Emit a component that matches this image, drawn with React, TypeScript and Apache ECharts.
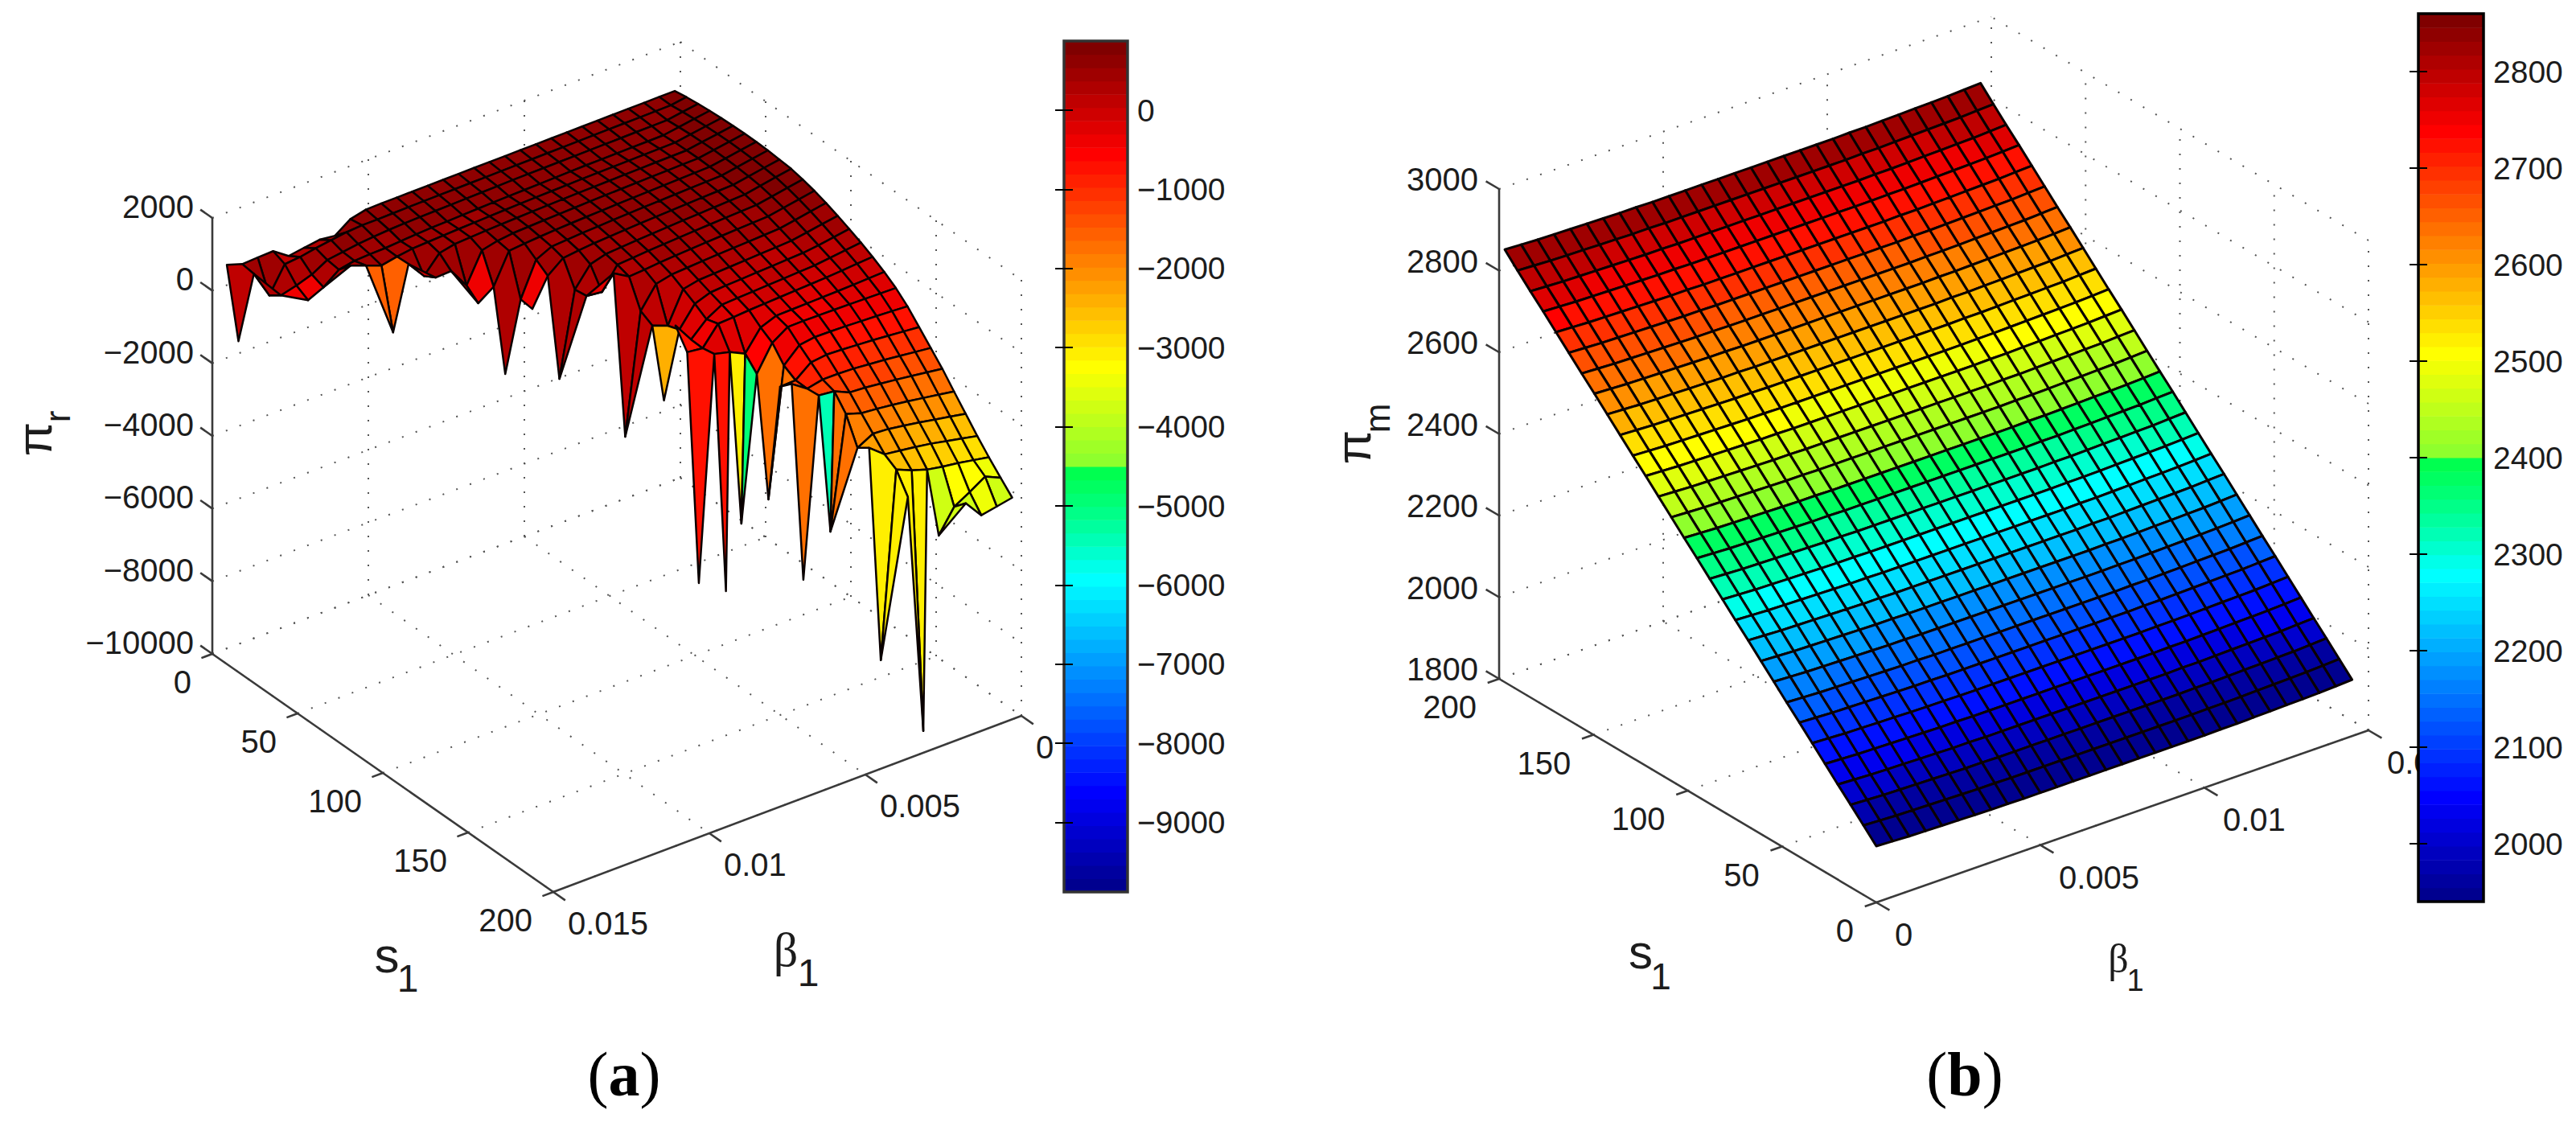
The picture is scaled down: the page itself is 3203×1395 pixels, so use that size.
import React, { useEffect, useRef } from "react";
import * as echarts from "echarts";

// ---------- panel (a) values ----------
const S_GRID_A = [0,6.82,13.65,20.47,27.3,34.12,40.94,47.77,54.59,61.42,68.24,75.06,81.89,88.71,95.54,102.36,109.18,116.01,122.83,129.66,136.48,143.3,150.13,156.95,163.78,170.6,177.42,184.25,191.07,197.9];
const BETA_GRID_A = [0.00018,0.000675,0.00117,0.001665,0.00216,0.002655,0.00315,0.003645,0.00414,0.004635,0.00513,0.005625,0.00612,0.006615,0.00711,0.007605,0.0081,0.008595,0.00909,0.009585,0.01008,0.010575,0.01107,0.011565,0.01206,0.012555,0.01305,0.013545,0.01404,0.014535];
// one row per s value; a row stops where the surface has no more points
const PI_R = [
[706,703,700,697,694,691,688,685,682,679,676,673,670,667,664,661,658,655,652,650,640,540,240,290,230,164,456,440,420,560],
[760,695,690,685,680,675,670,665,660,655,650,645,640,635,630,625,620,615,610,600,590,590,560,500,440,360,320,-376,376,-1320],
[800,735,670,665,660,655,650,645,640,635,630,625,620,610,600,590,580,570,560,550,530,500,460,400,340,100,-44,-155],
[830,765,700,635,630,625,620,615,610,600,590,580,570,560,550,535,520,505,490,470,440,410,400,380,296,-29,-224],
[852,788,723,658,652,646,640,634,628,620,610,600,590,578,565,550,535,520,500,480,460,400,314,474,633],
[866,800,735,668,662,655,648,640,632,624,615,605,595,582,568,552,535,515,490,400,-69,420,-1300],
[874,808,740,672,665,656,648,638,628,618,606,594,580,565,548,530,480,380,-430,130,110],
[870,802,732,662,652,642,630,618,606,592,578,562,545,525,500,470,430,-400,-693],
[858,788,716,644,632,620,606,592,578,562,545,525,505,480,450,250,-682,-2579],
[830,760,686,612,598,582,566,550,532,514,494,470,445,410,360,27,-722],
[800,725,648,570,552,534,515,495,475,452,428,402,370,250,-288,-2584],
[730,656,580,504,488,470,452,432,410,388,362,332,300,-288,-237],
[640,565,490,414,396,378,360,340,318,294,266,230,200,449],
[530,455,380,304,286,268,250,230,208,184,156,60,-527,-3825],
[400,330,260,190,170,150,130,110,90,70,-20,-868,-700],
[260,195,130,80,60,40,20,0,-20,-50,-200,-750,-2540],
[110,60,10,-40,-60,-80,-100,-120,-140,-160,-400,-800,-257],
[-60,-90,-120,-150,-170,-190,-210,-230,-250,-280,-300,-815,-764],
[-250,-270,-285,-300,-310,-320,-330,-340,-500,-1060,-860,-750,-6896],
[-470,-460,-450,-440,-432,-425,-420,-425,-700,-1394,-5355,-7053],
[-750,-725,-700,-680,-660,-645,-640,-700,-1100,-4625],
[-1100,-1060,-1020,-980,-950,-920,-900,-950,-1284,-1300],
[-1450,-1400,-1350,-1300,-1260,-1220,-1200,-1200,-1290,-1000],
[-1800,-1740,-1680,-1620,-1570,-1520,-1490,-1300,-1253,-6168],
[-2200,-2130,-2060,-1990,-1930,-1880,-1840,-1700,-4776],
[-2590,-2510,-2430,-2350,-2280,-2210,-2180,-2409],
[-2980,-2890,-2800,-2710,-2640,-2580,-2524,-2185],
[-3340,-3260,-3180,-3120,-3040,-2900,-2718,-7806],
[-3680,-3490,-3755,-4000,-4631,-9852,-3254],
[-4005,-4089,-4170,-3680],
];
// colour value seen on the facets round each spike: [s index, beta index, value]
const SPIKE_COLOUR = [[1,29,150],[3,26,-470],[5,22,-1500],[7,18,-470],[8,17,350],[9,16,-470],[10,15,300],[13,13,150],[15,12,-2450],[18,12,-800],[19,11,-800],[20,9,-1700],[23,9,-1750],[24,8,-1700],[27,7,-3100],[28,4,-3800],[28,5,-3100]];
const FACET_COLOUR = [[15,11,-700],[1,27,300]];
// facets drawn as two triangles with different colours: [s index, beta index, value, value]
const FACET_SPLIT = [[18,9,-3100,-5000],[23,7,-5500,-1700]];
// a facet that does not reach one of its spike corners: [facet s, facet beta, corner s, corner beta]
const FACET_SKIP = [[18,10,19,10],[18,11,19,11],[19,9,19,10],[23,8,24,8],[27,4,28,4],[7,17,7,18],[8,16,8,17],[9,15,9,16],[15,11,15,12]];
const Z_TICKS_A = [2000,0,-2000,-4000,-6000,-8000,-10000];
const S_TICKS_A = [0,50,100,150,200];
const BETA_TICKS_A = [0.015,0.01,0.005,0];
const BAR_TICKS_A = [0,-1000,-2000,-3000,-4000,-5000,-6000,-7000,-8000,-9000];

// ---------- panel (b) values ----------
const S_GRID_B = [0,6.79,13.59,20.38,27.17,33.97,40.76,47.55,54.34,61.14,67.93,74.72,81.52,88.31,95.1,101.9,108.69,115.48,122.27,129.07,135.86,142.65,149.45,156.24,163.03,169.83,176.62,183.41,190.2,197];
const BETA_GRID_B = [0,0.0005,0.001,0.0015,0.002,0.0025,0.003,0.0035,0.004,0.0045,0.005,0.0055,0.006,0.0065,0.007,0.0075,0.008,0.0085,0.009,0.0095,0.01,0.0105,0.011,0.0115,0.012,0.0125,0.013,0.0135,0.014,0.0145];
const PI_M = [
[1938,1936,1934,1933,1932,1931,1930,1929,1929,1928,1928,1928,1928,1928,1928,1928,1928,1928,1928,1928,1928,1929,1929,1930,1931,1932,1933,1934,1936,1938],
[1970,1968,1966,1965,1964,1963,1962,1961,1961,1960,1960,1960,1960,1960,1960,1960,1960,1960,1960,1960,1960,1961,1961,1962,1963,1964,1965,1966,1968,1970],
[2002,2000,1998,1997,1996,1995,1994,1993,1993,1992,1992,1992,1992,1992,1992,1992,1992,1992,1992,1992,1992,1993,1993,1994,1995,1996,1997,1998,2000,2002],
[2033,2031,2029,2028,2027,2026,2025,2024,2024,2023,2023,2023,2023,2023,2023,2023,2023,2023,2023,2023,2023,2024,2024,2025,2026,2027,2028,2029,2031,2033],
[2065,2063,2061,2060,2059,2058,2057,2056,2056,2055,2055,2055,2055,2055,2055,2055,2055,2055,2055,2055,2055,2056,2056,2057,2058,2059,2060,2061,2063,2065],
[2097,2095,2093,2092,2091,2090,2089,2088,2088,2087,2087,2087,2087,2087,2087,2087,2087,2087,2087,2087,2087,2088,2088,2089,2090,2091,2092,2093,2095,2097],
[2129,2127,2125,2124,2123,2122,2121,2120,2120,2119,2119,2119,2119,2119,2119,2119,2119,2119,2119,2119,2119,2120,2120,2121,2122,2123,2124,2125,2127,2129],
[2160,2158,2156,2155,2154,2153,2152,2151,2151,2150,2150,2150,2150,2150,2150,2150,2150,2150,2150,2150,2150,2151,2151,2152,2153,2154,2155,2156,2158,2160],
[2192,2190,2188,2187,2186,2185,2184,2183,2183,2182,2182,2182,2182,2182,2182,2182,2182,2182,2182,2182,2182,2183,2183,2184,2185,2186,2187,2188,2190,2192],
[2224,2222,2220,2219,2218,2217,2216,2215,2215,2214,2214,2214,2214,2214,2214,2214,2214,2214,2214,2214,2214,2215,2215,2216,2217,2218,2219,2220,2222,2224],
[2256,2254,2252,2251,2250,2249,2248,2247,2247,2246,2246,2246,2246,2246,2246,2246,2246,2246,2246,2246,2246,2247,2247,2248,2249,2250,2251,2252,2254,2256],
[2287,2285,2283,2282,2281,2280,2279,2278,2278,2277,2277,2277,2277,2277,2277,2277,2277,2277,2277,2277,2277,2278,2278,2279,2280,2281,2282,2283,2285,2287],
[2319,2317,2315,2314,2313,2312,2311,2310,2310,2309,2309,2309,2309,2309,2309,2309,2309,2309,2309,2309,2309,2310,2310,2311,2312,2313,2314,2315,2317,2319],
[2351,2349,2347,2346,2345,2344,2343,2342,2342,2341,2341,2341,2341,2341,2341,2341,2341,2341,2341,2341,2341,2342,2342,2343,2344,2345,2346,2347,2349,2351],
[2383,2381,2379,2378,2377,2376,2375,2374,2374,2373,2373,2373,2373,2373,2373,2373,2373,2373,2373,2373,2373,2374,2374,2375,2376,2377,2378,2379,2381,2383],
[2414,2412,2410,2409,2408,2407,2406,2405,2405,2404,2404,2404,2404,2404,2404,2404,2404,2404,2404,2404,2404,2405,2405,2406,2407,2408,2409,2410,2412,2414],
[2446,2444,2442,2441,2440,2439,2438,2437,2437,2436,2436,2436,2436,2436,2436,2436,2436,2436,2436,2436,2436,2437,2437,2438,2439,2440,2441,2442,2444,2446],
[2478,2476,2474,2473,2472,2471,2470,2469,2469,2468,2468,2468,2468,2468,2468,2468,2468,2468,2468,2468,2468,2469,2469,2470,2471,2472,2473,2474,2476,2478],
[2510,2508,2506,2505,2504,2503,2502,2501,2501,2500,2500,2500,2500,2500,2500,2500,2500,2500,2500,2500,2500,2501,2501,2502,2503,2504,2505,2506,2508,2510],
[2541,2539,2537,2536,2535,2534,2533,2532,2532,2531,2531,2531,2531,2531,2531,2531,2531,2531,2531,2531,2531,2532,2532,2533,2534,2535,2536,2537,2539,2541],
[2573,2571,2569,2568,2567,2566,2565,2564,2564,2563,2563,2563,2563,2563,2563,2563,2563,2563,2563,2563,2563,2564,2564,2565,2566,2567,2568,2569,2571,2573],
[2605,2603,2601,2600,2599,2598,2597,2596,2596,2595,2595,2595,2595,2595,2595,2595,2595,2595,2595,2595,2595,2596,2596,2597,2598,2599,2600,2601,2603,2605],
[2637,2635,2633,2632,2631,2630,2629,2628,2628,2627,2627,2627,2627,2627,2627,2627,2627,2627,2627,2627,2627,2628,2628,2629,2630,2631,2632,2633,2635,2637],
[2668,2666,2664,2663,2662,2661,2660,2659,2659,2658,2658,2658,2658,2658,2658,2658,2658,2658,2658,2658,2658,2659,2659,2660,2661,2662,2663,2664,2666,2668],
[2700,2698,2696,2695,2694,2693,2692,2691,2691,2690,2690,2690,2690,2690,2690,2690,2690,2690,2690,2690,2690,2691,2691,2692,2693,2694,2695,2696,2698,2700],
[2732,2730,2728,2727,2726,2725,2724,2723,2723,2722,2722,2722,2722,2722,2722,2722,2722,2722,2722,2722,2722,2723,2723,2724,2725,2726,2727,2728,2730,2732],
[2764,2762,2760,2759,2758,2757,2756,2755,2755,2754,2754,2754,2754,2754,2754,2754,2754,2754,2754,2754,2754,2755,2755,2756,2757,2758,2759,2760,2762,2764],
[2795,2793,2791,2790,2789,2788,2787,2786,2786,2785,2785,2785,2785,2785,2785,2785,2785,2785,2785,2785,2785,2786,2786,2787,2788,2789,2790,2791,2793,2795],
[2827,2825,2823,2822,2821,2820,2819,2818,2818,2817,2817,2817,2817,2817,2817,2817,2817,2817,2817,2817,2817,2818,2818,2819,2820,2821,2822,2823,2825,2827],
[2860,2858,2856,2855,2854,2853,2852,2851,2851,2850,2850,2850,2850,2850,2850,2850,2850,2850,2850,2850,2850,2851,2851,2852,2853,2854,2855,2856,2858,2860],
];
const Z_TICKS_B = [3000,2800,2600,2400,2200,2000,1800];
const S_TICKS_B = [200,150,100,50,0];
const BETA_TICKS_B = [0,0.005,0.01,0.015];
const BAR_TICKS_B = [2800,2700,2600,2500,2400,2300,2200,2100,2000];

// ---------- ranges ----------
const RANGE_A = { cMin: -9878, cMax: 874 };
const RANGE_B = { cMin: 1940, cMax: 2860 };

const FONT = '"Liberation Sans", Arial, sans-serif';
const SERIF = '"Liberation Serif", serif';
const TICK_FS = 40;

// MATLAB's 64-level jet, with the reference's saturated greens in the middle
function jetTable(): string[] {
  const n = 16;
  const u: number[] = [];
  for (let k = 1; k <= n; k++) u.push(k / n);
  for (let k = 0; k < n - 1; k++) u.push(1);
  for (let k = n; k >= 1; k--) u.push(k / n);
  const out: string[] = [];
  for (let m = 1; m <= 64; m++) {
    const pick = (off: number) => { const v = u[m - off - 1]; return v === undefined ? 0 : v * 255; };
    let r = pick(24);
    const g = pick(8);
    let b = pick(-8);
    const t = (m - 0.5) / 64;
    if (t > 0.375 && t < 0.5) {
      r = 0;
      b = b * (1 - ((t - 0.375) / 0.125) * 0.4);
    } else if (t >= 0.5 && t < 0.625) {
      b = b * 0.4;
    }
    out.push(`rgb(${Math.round(r)},${Math.round(g)},${Math.round(b)})`);
  }
  return out;
}
const JET = jetTable();
function jetColour(v: number, lo: number, hi: number) {
  const k = Math.max(0, Math.min(63, Math.floor(((v - lo) / (hi - lo)) * 64)));
  return JET[k];
}

type P3 = [number, number, number];
// each panel's oblique view: value triple -> position on the page
const projectA = (p: P3): [number, number] => {
  const b = (0.015 - p[1]) / 0.015;
  const q = p[0] / 200;
  return [264 + 424 * q + 582 * b, 813 + 296 * q - 219 * b - (p[2] + 10000) * (542 / 12000)];
};
const projectB = (p: P3): [number, number] => {
  const b = p[1] / 0.015;
  const q = p[0] / 200;
  return [2333 + 612 * b - 469 * q, 1122 - 214 * b - 278 * q - (p[2] - 1800) * (609 / 1200)];
};

type Facet = { pts: P3[]; colour: string };
type FacetOpts = { colours?: Map<string, number>; splits?: number[][]; skips?: number[][] };
function buildFacets(table: number[][], sg: number[], bg: number[], range: { cMin: number; cMax: number }, opts: FacetOpts, farFirst: (a: number[], b: number[]) => number) {
  const keys: number[][] = [];
  for (let i = 0; i < table.length - 1; i++) for (let j = 0; j < bg.length - 1; j++) keys.push([i, j]);
  keys.sort(farFirst);
  const out: Facet[] = [];
  const at = (a: number, b: number): P3 => [sg[a], bg[b], table[a][b]];
  const paint = (v: number) => jetColour(v, range.cMin, range.cMax);
  for (const [i, j] of keys) {
    const split = (opts.splits || []).find((e) => e[0] === i && e[1] === j);
    if (split) {
      out.push({ pts: [at(i, j), at(i, j + 1), at(i + 1, j + 1)], colour: paint(split[2]) });
      out.push({ pts: [at(i, j), at(i + 1, j), at(i + 1, j + 1)], colour: paint(split[3]) });
      continue;
    }
    const corners: number[][] = [[i, j], [i + 1, j], [i + 1, j + 1], [i, j + 1]];
    const pts: P3[] = [];
    for (const [a, b] of corners) {
      const v = table[a][b];
      const skipped = (opts.skips || []).some((e) => e[0] === i && e[1] === j && e[2] === a && e[3] === b);
      if (v !== undefined && !skipped) pts.push(at(a, b));
    }
    if (pts.length < 3) continue;
    const key = `${i},${j}`;
    const tint = opts.colours ? opts.colours.get(key) : undefined;
    const cv = tint !== undefined ? tint : table[i][j] !== undefined ? table[i][j] : pts[0][2];
    out.push({ pts, colour: paint(cv) });
  }
  return out;
}

const coloursA = new Map<string, number>();
for (const [I, J, v] of SPIKE_COLOUR) {
  coloursA.set(`${I - 1},${J - 1}`, v);
  coloursA.set(`${I},${J - 1}`, v);
  coloursA.set(`${I - 1},${J}`, v);
}
for (const [I, J, v] of FACET_COLOUR) coloursA.set(`${I},${J}`, v);

type Seg = { a: P3; b: P3; kind: "axis" | "grid" };
function buildSegsA(): Seg[] {
  const zMin = -10000, zMax = 2000, bFront = 0.015, sMax = 200;
  const out: Seg[] = [];
  for (const s of S_TICKS_A) {
    out.push({ a: [s, bFront, zMin], b: [s, 0, zMin], kind: "grid" });
    out.push({ a: [s, 0, zMin], b: [s, 0, zMax], kind: "grid" });
    out.push({ a: [s, bFront, zMin], b: [s, bFront + 0.00035, zMin], kind: "axis" });
  }
  for (const b of BETA_TICKS_A) {
    out.push({ a: [0, b, zMin], b: [sMax, b, zMin], kind: "grid" });
    out.push({ a: [0, b, zMin], b: [0, b, zMax], kind: "grid" });
    out.push({ a: [sMax, b, zMin], b: [sMax + 7, b, zMin], kind: "axis" });
  }
  for (const z of Z_TICKS_A) {
    out.push({ a: [0, bFront, z], b: [0, 0, z], kind: "grid" });
    out.push({ a: [0, 0, z], b: [sMax, 0, z], kind: "grid" });
    out.push({ a: [0, bFront, z], b: [-7, bFront, z], kind: "axis" });
  }
  out.push({ a: [0, bFront, zMin], b: [0, bFront, zMax], kind: "axis" });
  out.push({ a: [0, bFront, zMin], b: [sMax, bFront, zMin], kind: "axis" });
  out.push({ a: [sMax, bFront, zMin], b: [sMax, 0, zMin], kind: "axis" });
  return out;
}
function buildSegsB(): Seg[] {
  const zMin = 1800, zMax = 3000, bBack = 0.015, sMax = 200;
  const out: Seg[] = [];
  for (const s of S_TICKS_B) {
    out.push({ a: [s, 0, zMin], b: [s, bBack, zMin], kind: "grid" });
    out.push({ a: [s, bBack, zMin], b: [s, bBack, zMax], kind: "grid" });
    out.push({ a: [s, 0, zMin], b: [s, -0.00035, zMin], kind: "axis" });
  }
  for (const b of BETA_TICKS_B) {
    out.push({ a: [0, b, zMin], b: [sMax, b, zMin], kind: "grid" });
    out.push({ a: [sMax, b, zMin], b: [sMax, b, zMax], kind: "grid" });
    out.push({ a: [0, b, zMin], b: [-7, b, zMin], kind: "axis" });
  }
  for (const z of Z_TICKS_B) {
    out.push({ a: [sMax, 0, z], b: [sMax, bBack, z], kind: "grid" });
    out.push({ a: [0, bBack, z], b: [sMax, bBack, z], kind: "grid" });
    out.push({ a: [sMax, 0, z], b: [sMax + 7, 0, z], kind: "axis" });
  }
  out.push({ a: [sMax, 0, zMin], b: [sMax, 0, zMax], kind: "axis" });
  out.push({ a: [0, 0, zMin], b: [sMax, 0, zMin], kind: "axis" });
  out.push({ a: [0, 0, zMin], b: [0, bBack, zMin], kind: "axis" });
  return out;
}

type Lab = { at: [number, number]; dx: number; dy: number; text: string; align: string };
const minus = (v: number) => String(v).replace("-", "\u2212");
function buildLabels(): Lab[] {
  const out: Lab[] = [];
  for (const z of Z_TICKS_A) out.push({ at: projectA([0, 0.015, z]), dx: -23, dy: -14, text: minus(z), align: "right" });
  for (const s of S_TICKS_A) out.push({ at: projectA([s, 0.015, -10000]), dx: -26, dy: 35, text: String(s), align: "right" });
  for (const b of BETA_TICKS_A) out.push({ at: projectA([200, b, -10000]), dx: 18, dy: 39, text: String(b), align: "left" });
  for (const z of Z_TICKS_B) out.push({ at: projectB([200, 0, z]), dx: -26, dy: -12, text: String(z), align: "right" });
  for (const s of S_TICKS_B) out.push({ at: projectB([s, 0, 1800]), dx: -28, dy: 35, text: String(s), align: "right" });
  for (const b of BETA_TICKS_B) out.push({ at: projectB([0, b, 1800]), dx: 23, dy: 40, text: String(b), align: "left" });
  return out;
}

function txt(text: string, x: number, y: number, fontSize: number, family = FONT, rotation = 0, fontWeight = "normal") {
  return {
    type: "text", x, y, rotation, silent: true,
    style: { text, fontSize, fontFamily: family, fontWeight, fill: "#1c1c1c", align: "center", verticalAlign: "middle" },
  };
}

function bandItems(lo: number, hi: number) {
  const step = (hi - lo) / 64;
  return JET.map((c, k) => ({ c, a: lo + k * step, b: lo + (k + 1) * step }));
}

function App() {
  const ref = useRef<HTMLDivElement | null>(null);
  useEffect(() => {
    const chart = echarts.init(ref.current as HTMLDivElement, null, { renderer: "svg" });
    const labels = buildLabels();
    const facetsA = buildFacets(PI_R, S_GRID_A, BETA_GRID_A, RANGE_A, { colours: coloursA, splits: FACET_SPLIT, skips: FACET_SKIP }, (p, q) => p[0] + p[1] - (q[0] + q[1]));
    const facetsB = buildFacets(PI_M, S_GRID_B, BETA_GRID_B, RANGE_B, {}, (p, q) => q[0] + q[1] - (p[0] + p[1]));
    const segSeries = (list: Seg[], project: (p: P3) => [number, number], z: number) => ({
      type: "custom", coordinateSystem: "cartesian2d", xAxisIndex: 0, yAxisIndex: 0, silent: true, clip: false, z,
      data: list.map((_, i) => i),
      renderItem: (params: any, api: any) => {
        const sg = list[params.dataIndex];
        const a = api.coord(project(sg.a));
        const b = api.coord(project(sg.b));
        const grid = sg.kind === "grid";
        return {
          type: "line",
          shape: { x1: a[0], y1: a[1], x2: b[0], y2: b[1] },
          style: grid ? { stroke: "#555", lineWidth: 2, lineDash: [2, 16], fill: null } : { stroke: "#3a3a3a", lineWidth: 2.6, fill: null },
        };
      },
    });
    const surface = (list: Facet[], project: (p: P3) => [number, number], width: number) => ({
      type: "custom", coordinateSystem: "cartesian2d", xAxisIndex: 0, yAxisIndex: 0, silent: true, clip: false, z: 3,
      data: list.map((_, i) => i),
      renderItem: (params: any, api: any) => {
        const f = list[params.dataIndex];
        return {
          type: "polygon",
          shape: { points: f.pts.map((p) => api.coord(project(p))) },
          style: { fill: f.colour, stroke: "#0a0000", lineWidth: width, lineJoin: "round" },
        };
      },
    });
    const bar = (xIdx: number, yIdx: number, lo: number, hi: number, frame: string) => {
      const bands = bandItems(lo, hi);
      return {
        type: "custom", coordinateSystem: "cartesian2d", xAxisIndex: xIdx, yAxisIndex: yIdx, silent: true, clip: false, z: 6,
        data: [...bands.map((_, i) => i), bands.length],
        renderItem: (params: any, api: any) => {
          const k = params.dataIndex;
          if (k === bands.length) {
            const p = api.coord([0, hi]);
            const q = api.coord([1, lo]);
            return { type: "rect", shape: { x: p[0], y: p[1], width: q[0] - p[0], height: q[1] - p[1] }, style: { fill: null, stroke: frame, lineWidth: 3.5 } };
          }
          const p = api.coord([0, bands[k].b]);
          const q = api.coord([1, bands[k].a]);
          return { type: "rect", shape: { x: p[0], y: p[1], width: q[0] - p[0], height: q[1] - p[1] + 0.6 }, style: { fill: bands[k].c } };
        },
      };
    };
    const barY = (grid: number, lo: number, hi: number, ticks: number[], side: string, labelled: boolean) => ({
      type: "value", gridIndex: grid, min: lo, max: hi, position: side, z: 10,
      splitLine: { show: false }, axisLine: { show: false },
      axisTick: { show: true, inside: true, length: 11, customValues: ticks, lineStyle: { color: "#000", width: 2 } },
      axisLabel: labelled
        ? { show: true, customValues: ticks, margin: 12, color: "#1c1c1c", fontSize: 39, fontFamily: FONT, formatter: (v: number) => minus(v) }
        : { show: false },
    });
    chart.setOption({
      animation: false,
      backgroundColor: "#fff",
      grid: [
        { left: 0, top: 0, width: 3203, height: 1395 },
        { left: 1323, top: 51, width: 79, height: 1058 },
        { left: 3007, top: 17, width: 81, height: 1104 },
      ],
      xAxis: [
        { type: "value", gridIndex: 0, min: 0, max: 3203, show: false },
        { type: "value", gridIndex: 1, min: 0, max: 1, show: false },
        { type: "value", gridIndex: 2, min: 0, max: 1, show: false },
      ],
      yAxis: [
        { type: "value", gridIndex: 0, min: 0, max: 1395, inverse: true, show: false },
        barY(1, RANGE_A.cMin, RANGE_A.cMax, BAR_TICKS_A, "right", true),
        barY(1, RANGE_A.cMin, RANGE_A.cMax, BAR_TICKS_A, "left", false),
        barY(2, RANGE_B.cMin, RANGE_B.cMax, BAR_TICKS_B, "right", true),
        barY(2, RANGE_B.cMin, RANGE_B.cMax, BAR_TICKS_B, "left", false),
      ],
      series: [
        segSeries(buildSegsA(), projectA, 1),
        segSeries(buildSegsB(), projectB, 1),
        surface(facetsA, projectA, 2.5),
        surface(facetsB, projectB, 3),
        {
          type: "custom", coordinateSystem: "cartesian2d", xAxisIndex: 0, yAxisIndex: 0, silent: true, clip: false, z: 4,
          data: labels.map((_, i) => i),
          renderItem: (params: any, api: any) => {
            const l = labels[params.dataIndex];
            const c = api.coord([l.at[0] + l.dx, l.at[1] + l.dy]);
            return {
              type: "text", x: c[0], y: c[1],
              style: { text: l.text, fontSize: TICK_FS, fontFamily: FONT, fill: "#1c1c1c", align: l.align, verticalAlign: "middle" },
            };
          },
        },
        bar(1, 1, RANGE_A.cMin, RANGE_A.cMax, "#333"),
        bar(2, 3, RANGE_B.cMin, RANGE_B.cMax, "#000"),
      ],
      graphic: [
        txt("\u03C0", 42, 546, 62, FONT, Math.PI / 2),
        txt("r", 71, 518, 44, FONT, Math.PI / 2),
        txt("s", 481, 1187, 62),
        txt("1", 507, 1216, 48),
        txt("\u03B2", 977, 1181, 60, SERIF),
        txt("1", 1005, 1209, 48),
        txt("\u03C0", 1682, 556, 62, FONT, Math.PI / 2),
        txt("m", 1712, 520, 44, FONT, Math.PI / 2),
        txt("s", 2040, 1183, 60),
        txt("1", 2065, 1214, 46),
        txt("\u03B2", 2634, 1192, 50, SERIF),
        txt("1", 2655, 1219, 38),
        {
          type: "text", x: 776, y: 1335, silent: true,
          style: {
            text: "{p|(}{b|a}{p|)}", align: "center", verticalAlign: "middle",
            rich: {
              p: { fontSize: 78, fontFamily: SERIF, fill: "#000" },
              b: { fontSize: 78, fontFamily: SERIF, fontWeight: "bold", fill: "#000" },
            },
          },
        },
        {
          type: "text", x: 2443, y: 1335, silent: true,
          style: {
            text: "{p|(}{b|b}{p|)}", align: "center", verticalAlign: "middle",
            rich: {
              p: { fontSize: 78, fontFamily: SERIF, fill: "#000" },
              b: { fontSize: 78, fontFamily: SERIF, fontWeight: "bold", fill: "#000" },
            },
          },
        },
      ],
    });
    return () => chart.dispose();
  }, []);
  return <div ref={ref} style={{ position: "absolute", left: 0, top: 0, width: 3203, height: 1395 }} />;
}

export default App;
